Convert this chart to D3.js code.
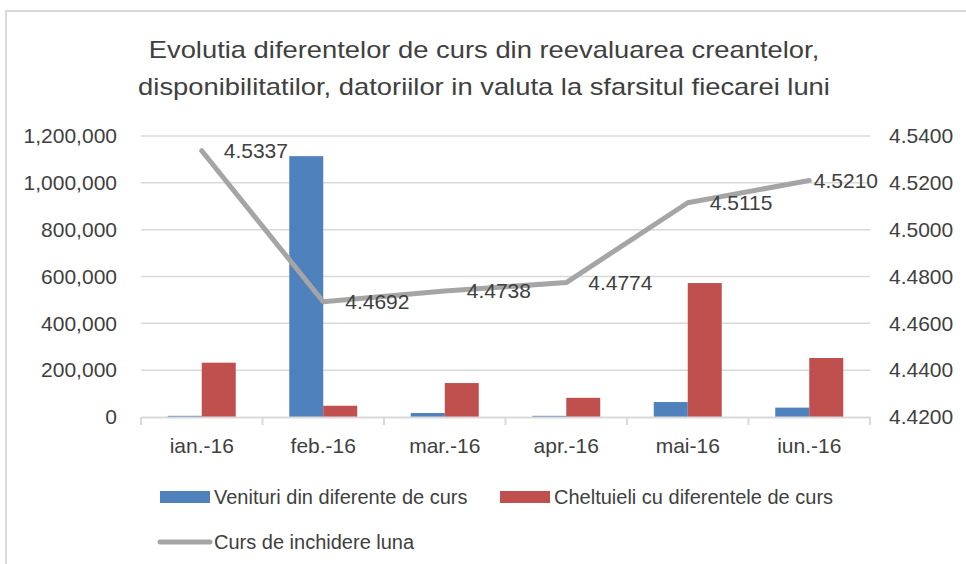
<!DOCTYPE html>
<html lang="ro">
<head>
<meta charset="UTF-8">
<title>Evolutia diferentelor de curs</title>
<script src="https://d3js.org/d3.v7.min.js"></script>
<style>
    body { margin: 0; background: #fff; }
    svg { font-family: "Liberation Sans", Arial, sans-serif; }
</style>
</head>
<body>
<svg width="966" height="564"></svg>
<script>
    // data
    const months = ["ian.-16", "feb.-16", "mar.-16", "apr.-16", "mai-16", "iun.-16"];
    const venituri = [5000, 1114000, 17000, 5000, 64000, 40000];
    const cheltuieli = [232000, 48000, 145000, 82000, 572000, 252000];
    const curs = [4.5337, 4.4692, 4.4738, 4.4774, 4.5115, 4.5210];
    const leftTicks = [0, 200000, 400000, 600000, 800000, 1000000, 1200000];
    const rightTicks = [4.42, 4.44, 4.46, 4.48, 4.50, 4.52, 4.54];
    const titleLines = ["Evolutia diferentelor de curs din reevaluarea creantelor,",
        "disponibilitatilor, datoriilor in valuta la sfarsitul fiecarei luni"];
    const seriesNames = ["Venituri din diferente de curs", "Cheltuieli cu diferentele de curs", "Curs de inchidere luna"];

    const blue = "#4f81bd", red = "#c0504d", gray = "#a5a5a5", txt = "#404040";

    let svg = d3.select("svg");
    let plot = {left: 141, right: 870, top: 136, bottom: 417};

    // chart border
    svg.append("rect")
        .attr("x", 6).attr("y", 11)
        .attr("width", 1000).attr("height", 600)
        .attr("fill", "none")
        .attr("stroke", "#d9d9d9")
        .attr("stroke-width", 2);

    // title (the original font is a bit wider, so stretch it horizontally)
    svg.append("g")
        .attr("transform", "translate(484,0) scale(1.19,1)")
        .selectAll("text")
        .data(titleLines)
        .enter()
        .append("text")
        .attr("x", 0)
        .attr("y", (d, i) => 58 + i * 37)
        .attr("text-anchor", "middle")
        .attr("font-size", 23)
        .attr("fill", txt)
        .text(d => d);

    let x = d3.scaleBand().domain(months).range([plot.left, plot.right]);
    let xs = d3.scaleBand().domain(["v", "c"]).range([0, 68]);
    let y = d3.scaleLinear().domain([0, 1200000]).range([plot.bottom, plot.top]);
    let y2 = d3.scaleLinear().domain([4.42, 4.54]).range([plot.bottom, plot.top]);

    // gridlines
    svg.append("g")
        .selectAll("line")
        .data(leftTicks.slice(1))
        .enter()
        .append("line")
        .attr("x1", plot.left).attr("x2", plot.right)
        .attr("y1", d => y(d)).attr("y2", d => y(d))
        .attr("stroke", "#d9d9d9")
        .attr("stroke-width", 1.5);

    // left axis
    let leftAxis = svg.append("g")
        .attr("transform", `translate(${plot.left},0)`)
        .call(d3.axisLeft(y).tickValues(leftTicks).tickFormat(d3.format(",")).tickSize(0).tickPadding(24));
    leftAxis.select(".domain").remove();
    leftAxis.selectAll("text").attr("font-size", 21).attr("fill", txt).attr("font-family", null);

    // right axis
    let rightAxis = svg.append("g")
        .attr("transform", `translate(${plot.right},0)`)
        .call(d3.axisRight(y2).tickValues(rightTicks).tickFormat(d3.format(".4f")).tickSize(0).tickPadding(19));
    rightAxis.select(".domain").remove();
    rightAxis.selectAll("text").attr("font-size", 21).attr("fill", txt).attr("font-family", null);

    // bars
    let groups = svg.append("g")
        .selectAll("g")
        .data(months)
        .enter()
        .append("g")
        .attr("transform", d => `translate(${x(d) + x.bandwidth() / 2 - 34},0)`);

    groups.append("rect")
        .attr("x", xs("v"))
        .attr("width", xs.bandwidth())
        .attr("y", (d, i) => y(venituri[i]))
        .attr("height", (d, i) => y(0) - y(venituri[i]))
        .attr("fill", blue);

    groups.append("rect")
        .attr("x", xs("c"))
        .attr("width", xs.bandwidth())
        .attr("y", (d, i) => y(cheltuieli[i]))
        .attr("height", (d, i) => y(0) - y(cheltuieli[i]))
        .attr("fill", red);

    // bottom axis
    let bottomAxis = svg.append("g")
        .attr("transform", `translate(0,${plot.bottom})`)
        .call(d3.axisBottom(x).tickSize(0).tickPadding(21));
    bottomAxis.select(".domain")
        .attr("stroke", "#d9d9d9").attr("stroke-width", 2);
    bottomAxis.selectAll("text").attr("font-size", 21).attr("fill", txt).attr("font-family", null);
    bottomAxis.append("g")
        .selectAll("line")
        .data(d3.range(months.length + 1))
        .enter()
        .append("line")
        .attr("x1", i => plot.left + i * x.step())
        .attr("x2", i => plot.left + i * x.step())
        .attr("y1", 0).attr("y2", 8)
        .attr("stroke", "#d9d9d9").attr("stroke-width", 2);

    // line series
    let line = d3.line()
        .x((d, i) => x(months[i]) + x.bandwidth() / 2)
        .y(d => y2(d));

    svg.append("path")
        .datum(curs)
        .attr("d", line)
        .attr("fill", "none")
        .attr("stroke", gray)
        .attr("stroke-width", 5)
        .attr("stroke-linecap", "round")
        .attr("stroke-linejoin", "round");

    let labels = svg.append("g")
        .selectAll("text")
        .data(curs)
        .enter()
        .append("text")
        .attr("x", (d, i) => x(months[i]) + x.bandwidth() / 2 + 22)
        .attr("y", d => y2(d))
        .attr("dy", "0.35em")
        .attr("font-size", 21)
        .attr("fill", txt)
        .text(d => d.toFixed(4));

    // keep the last label from running into the right axis
    labels.each(function () {
        let t = d3.select(this);
        let w = this.getComputedTextLength();
        let lx = +t.attr("x");
        if (lx + w > plot.right + 8) t.attr("x", plot.right + 8 - w);
    });

    // legend
    let legend = svg.append("g").attr("font-size", 20).attr("fill", txt);
    let legendItems = [
        {x: 160, y: 497, name: seriesNames[0], color: blue, type: "rect"},
        {x: 500, y: 497, name: seriesNames[1], color: red, type: "rect"},
        {x: 160, y: 542, name: seriesNames[2], color: gray, type: "line"}
    ];
    legendItems.forEach(item => {
        if (item.type === "rect") {
            legend.append("rect")
                .attr("x", item.x).attr("y", item.y - 6)
                .attr("width", 50).attr("height", 12)
                .attr("fill", item.color);
        } else {
            legend.append("line")
                .attr("x1", item.x).attr("x2", item.x + 50)
                .attr("y1", item.y).attr("y2", item.y)
                .attr("stroke", item.color).attr("stroke-width", 5)
                .attr("stroke-linecap", "round");
        }
        legend.append("text")
            .attr("x", item.x + 54)
            .attr("y", item.y)
            .attr("dy", "0.35em")
            .text(item.name);
    });
</script>
</body>
</html>
